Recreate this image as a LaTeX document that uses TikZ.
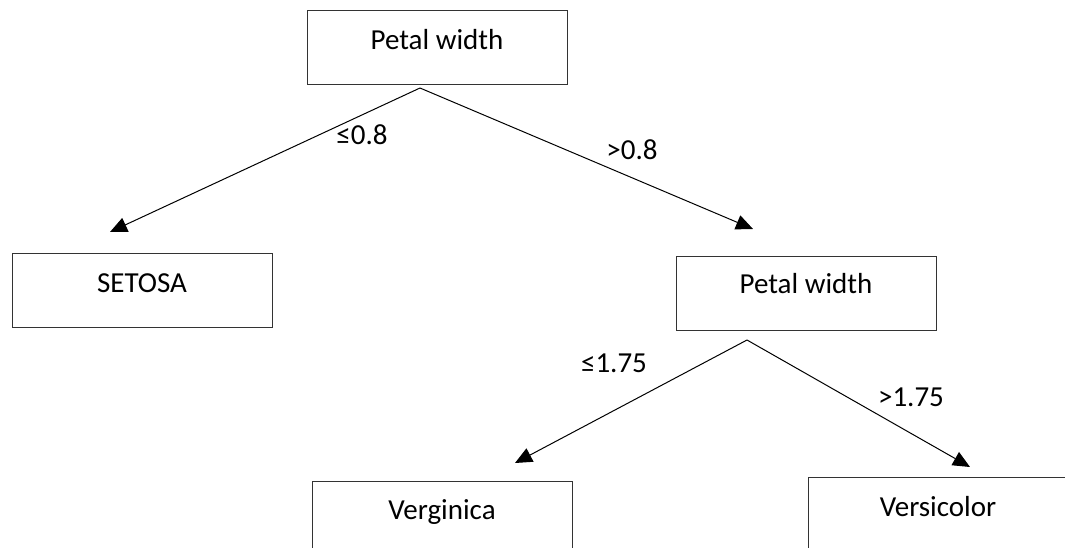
\documentclass[tikz,border=0pt]{standalone}
\usepackage{fontspec}
\setmainfont{Carlito}
\usetikzlibrary{arrows.meta}
\begin{document}
\begin{tikzpicture}[x=1pt,y=-1pt,
  box/.style={draw=black!80, line width=1.3pt, minimum width=260pt, minimum height=74pt,
              inner sep=0pt, anchor=north west},
  txt/.style={font=\fontsize{29}{34}\selectfont, inner sep=0pt},
  branch/.style={line width=1pt, -{Triangle[length=17pt,width=15pt]}}]
\useasboundingbox (0,0) rectangle (1065,548);
\clip (0,0) rectangle (1065,548);

% decision and leaf boxes
\node[box] (root)  at (307,10)  {};
\node[box] (setosa) at (12,253) {};
\node[box] (inner) at (676,256) {};
\node[box] (vergi) at (312,481) {};
\node[box] (versi) at (808,477) {};

% box captions
\node[txt] (rootT)   at (437,40)  {Petal width};
\node[txt] (setosaT) at (142,283) {SETOSA};
\node[txt] (innerT)  at (806,284) {Petal width};
\node[txt] (vergiT)  at (442,512) {Verginica};
\node[txt] (versiT)  at (938,507) {Versicolor};

% split points and arrow ends
\coordinate (s1) at (420,88);
\coordinate (t1) at (110,232);
\coordinate (t2) at (753,229);
\coordinate (s2) at (747,340);
\coordinate (t3) at (515,463);
\coordinate (t4) at (970,467);

\draw[branch] (s1) -- (t1);
\draw[branch] (s1) -- (t2);
\draw[branch] (s2) -- (t3);
\draw[branch] (s2) -- (t4);

% branch conditions
\node[txt] (c1) at (362,135) {≤0.8};
\node[txt] (c2) at (632,150) {>0.8};
\node[txt] (c3) at (614,363) {≤1.75};
\node[txt] (c4) at (911,397) {>1.75};
\end{tikzpicture}
\end{document}
